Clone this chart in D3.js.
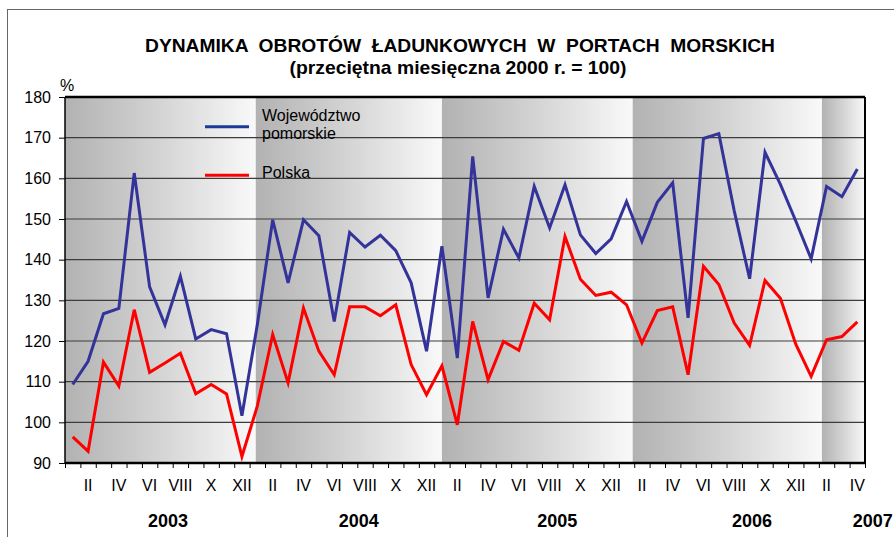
<!DOCTYPE html>
<head>
  <meta charset="utf-8">
  <script src="https://d3js.org/d3.v7.min.js"></script>
  <style>
    body { margin: 0; background: #fff; }
    text { font-family: 'Liberation Sans', Arial, sans-serif; fill: #000; }
    .title { font-size: 19px; font-weight: bold; white-space: pre; }
    .axis text { font-size: 16px; }
    .year { font-size: 18px; font-weight: bold; }
    .legend { font-size: 16px; }
    .grid line { stroke: #3c3c3c; stroke-width: 1.2; }
  </style>
</head>
<body>
  <script>
    // data, Jan 2003 .. Apr 2007
    var months = ["I", "II", "III", "IV", "V", "VI", "VII", "VIII", "IX", "X", "XI", "XII"];
    var years = ["2003", "2004", "2005", "2006", "2007"];

    var pomorskie = [
      109.3, 115.0, 126.7, 128.0, 161.3, 133.3, 124.0, 135.9, 120.5, 122.8, 121.8, 101.6,
      124.0, 149.8, 134.3, 149.8, 145.9, 124.8, 146.7, 143.1, 146.0, 142.2, 134.3, 117.5,
      143.3, 115.8, 165.4, 130.6, 147.5, 140.4, 158.0, 147.8, 158.4, 146.1, 141.5, 145.1,
      154.3, 144.5, 154.1, 158.9, 125.7, 169.8, 171.0, 152.0, 135.3, 166.4, 158.5, 149.5,
      140.2, 158.0, 155.5, 162.3
    ];
    var polska = [
      96.4, 92.9, 114.8, 108.9, 127.7, 112.3, 114.6, 117.0, 107.0, 109.3, 107.0, 91.6,
      104.0, 121.6, 109.7, 128.1, 117.5, 111.7, 128.4, 128.4, 126.2, 128.9, 114.2, 106.8,
      113.9, 99.4, 124.8, 110.5, 119.9, 117.7, 129.3, 125.2, 145.7, 135.2, 131.2, 132.0,
      128.9, 119.5, 127.5, 128.4, 111.7, 138.4, 133.9, 124.4, 118.9, 134.9, 130.5, 119.2,
      111.3, 120.3, 121.1, 124.7
    ];

    // shaded year bands (in month units) and where the year labels sit
    var bandStarts = [0, 12.4, 24.5, 36.9, 49.2];
    var yearLabelPos = [6.7, 19.1, 32.0, 44.65, 52.5];
    var yTicks = [90, 100, 110, 120, 130, 140, 150, 160, 170, 180];

    var W = 894, H = 537;
    var margin = { top: 97, right: 29, bottom: 74, left: 65 };
    var width = W - margin.left - margin.right;
    var height = H - margin.top - margin.bottom;
    var n = pomorskie.length;

    var svg = d3.select("body").append("svg")
        .attr("width", W)
        .attr("height", H);

    // outer frame
    svg.append("rect")
        .attr("x", 7.5).attr("y", 9.5)
        .attr("width", 950).attr("height", 600)
        .attr("fill", "none").attr("stroke", "#666");

    svg.append("text").attr("class", "title")
        .attr("x", 460).attr("y", 52)
        .attr("text-anchor", "middle")
        .attr("xml:space", "preserve")
        .attr("textLength", 630).attr("lengthAdjust", "spacingAndGlyphs")
        .text("DYNAMIKA  OBROTÓW  ŁADUNKOWYCH  W  PORTACH  MORSKICH");
    svg.append("text").attr("class", "title")
        .attr("x", 458).attr("y", 74)
        .attr("text-anchor", "middle")
        .attr("textLength", 337).attr("lengthAdjust", "spacingAndGlyphs")
        .text("(przeciętna miesięczna 2000 r. = 100)");
    svg.append("text")
        .attr("x", 67).attr("y", 91)
        .attr("text-anchor", "middle")
        .style("font-size", "16px")
        .text("%");

    var g = svg.append("g")
        .attr("transform", "translate(" + margin.left + "," + margin.top + ")");

    var x = d3.scaleLinear().domain([0, n]).range([0, width]);
    var y = d3.scaleLinear().domain([90, 180]).range([height, 0]);

    // gradient year bands
    var defs = svg.append("defs");
    var grad = defs.append("linearGradient").attr("id", "band")
        .attr("x1", 0).attr("x2", 1).attr("y1", 0).attr("y2", 0);
    grad.append("stop").attr("offset", 0).attr("stop-color", "#b2b2b2");
    grad.append("stop").attr("offset", 0.5).attr("stop-color", "#d4d4d4");
    grad.append("stop").attr("offset", 1).attr("stop-color", "#f9f9f9");

    g.selectAll(".band")
        .data(bandStarts)
      .enter().append("rect")
        .attr("class", "band")
        .attr("x", function(d) { return x(d); })
        .attr("y", 0)
        .attr("width", function(d, i) { return x(i < bandStarts.length - 1 ? bandStarts[i + 1] : n) - x(d); })
        .attr("height", height)
        .attr("fill", "url(#band)");

    // grid
    g.append("g").attr("class", "grid")
      .selectAll("line")
        .data(yTicks.slice(1, -1))
      .enter().append("line")
        .attr("x1", 0).attr("x2", width)
        .attr("y1", function(d) { return y(d); })
        .attr("y2", function(d) { return y(d); });

    // y axis
    var yAxis = g.append("g").attr("class", "axis")
        .call(d3.axisLeft(y).tickValues(yTicks).tickSize(6).tickPadding(8));
    yAxis.select(".domain").remove();
    yAxis.selectAll("line").attr("stroke", "#000");

    // x axis: ticks at month boundaries, labels on even months
    var xAxis = g.append("g").attr("class", "axis")
        .attr("transform", "translate(0," + height + ")")
        .call(d3.axisBottom(x).tickValues(d3.range(n + 1)).tickSize(5).tickFormat(""));
    xAxis.select(".domain").remove();
    xAxis.selectAll("line").attr("stroke", "#000");

    g.append("g").attr("class", "axis")
      .selectAll("text")
        .data(d3.range(n).filter(function(i) { return i % 2 === 1; }))
      .enter().append("text")
        .attr("x", function(i) { return x(i + 0.5); })
        .attr("y", height + 28)
        .attr("text-anchor", "middle")
        .text(function(i) { return months[i % 12]; });

    g.selectAll(".year")
        .data(years)
      .enter().append("text")
        .attr("class", "year")
        .attr("x", function(d, i) { return x(yearLabelPos[i]); })
        .attr("y", height + 64)
        .attr("text-anchor", "middle")
        .text(function(d) { return d; });

    // plot frame
    g.append("line").attr("x1", 0).attr("x2", width).attr("y1", 0).attr("y2", 0)
        .attr("stroke", "#000").attr("stroke-width", 2.5);
    g.append("line").attr("x1", width).attr("x2", width).attr("y1", 0).attr("y2", height)
        .attr("stroke", "#000").attr("stroke-width", 2);
    g.append("line").attr("x1", 0).attr("x2", width).attr("y1", height).attr("y2", height)
        .attr("stroke", "#000").attr("stroke-width", 2.5);
    g.append("line").attr("x1", 0).attr("x2", 0).attr("y1", 0).attr("y2", height)
        .attr("stroke", "#000").attr("stroke-width", 1.5);

    var line = d3.line()
        .x(function(d, i) { return x(i + 0.5); })
        .y(function(d) { return y(d); });

    g.append("path").datum(polska)
        .attr("fill", "none").attr("stroke", "#ff0000")
        .attr("stroke-width", 3).attr("stroke-linejoin", "miter")
        .attr("d", line);
    g.append("path").datum(pomorskie)
        .attr("fill", "none").attr("stroke", "#333399")
        .attr("stroke-width", 3).attr("stroke-linejoin", "miter")
        .attr("d", line);

    // legend
    var legend = [
      { color: "#1a3a96", lines: ["Województwo", "pomorskie"], ly: 126.7, ty: 121 },
      { color: "#ff0000", lines: ["Polska"], ly: 175.3, ty: 178 }
    ];
    legend.forEach(function(l) {
      svg.append("line")
          .attr("x1", 205).attr("x2", 249)
          .attr("y1", l.ly).attr("y2", l.ly)
          .attr("stroke", l.color).attr("stroke-width", 3);
      l.lines.forEach(function(t, j) {
        svg.append("text").attr("class", "legend")
            .attr("x", 262).attr("y", l.ty + j * 18)
            .text(t);
      });
    });
  </script>
</body>
